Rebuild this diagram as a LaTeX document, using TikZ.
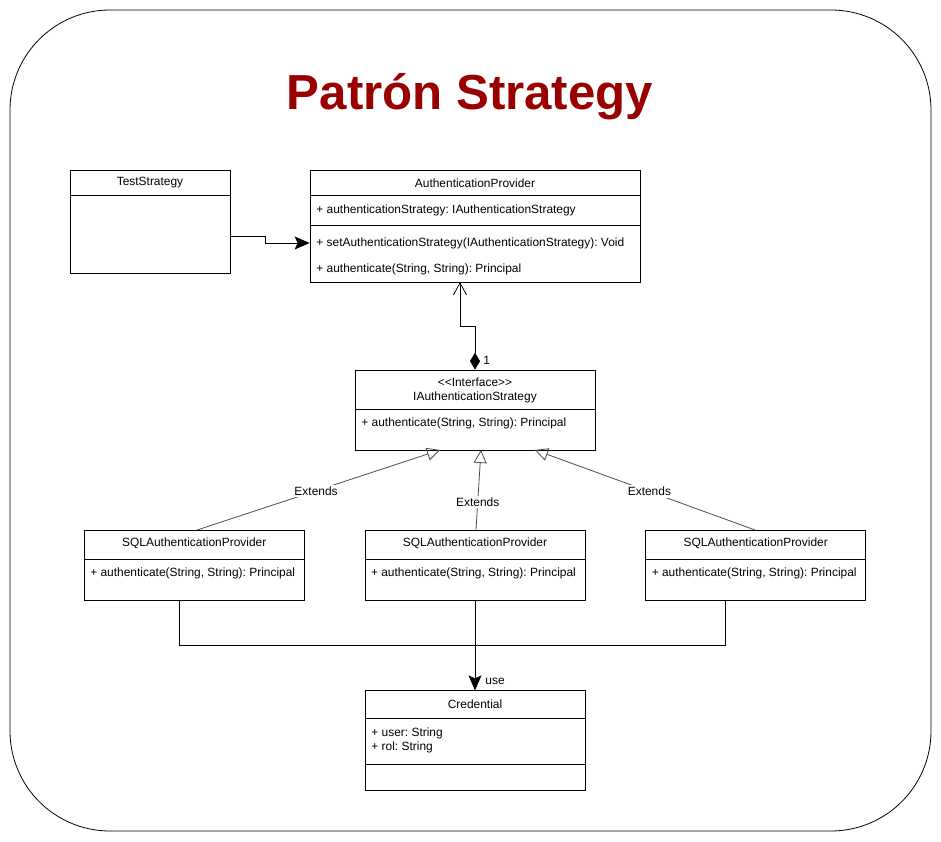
\documentclass[tikz,border=0pt]{standalone}
\usepackage{fontspec}
\setmainfont{Liberation Sans}
\usepackage{tikz}
\usetikzlibrary{positioning,arrows.meta,calc}
\definecolor{titlered}{HTML}{990000}
\frenchspacing

\begin{document}
\begin{tikzpicture}[x=0.02cm,y=-0.02cm,line width=0.45pt,
  cls/.style={draw,fill=white,inner sep=0pt,minimum width=#1},
  txt/.style={font=\fontsize{6.8}{8.2}\selectfont,inner sep=0pt},
  memb/.style={txt,anchor=west},
  ext/.style={draw=black!70,-{Triangle[open,length=0.26cm,width=0.26cm]}},
  lbl/.style={txt,fill=white,inner sep=1pt}]
\useasboundingbox (0,0) rectangle (941,842);
\draw[rounded corners=2cm] (10,10) rectangle (931,831);
\node[font=\fontsize{28}{34}\selectfont\bfseries,text=titlered] (title) at (470,97) {Patrón Strategy};

\node[cls=3.2cm,minimum height=2.06cm] (test) at (150,221.5) {}; \node[cls=6.6cm,minimum height=2.24cm] (auth) at (475,226) {};
\node[cls=4.8cm,minimum height=1.6cm] (iface) at (475,410) {};
\node[cls=4.4cm,minimum height=1.4cm] (sqlB) at (475,565) {}; \node[cls=4.4cm,minimum height=1.4cm,left=1.2cm of sqlB] (sqlA) {}; \node[cls=4.4cm,minimum height=1.4cm,right=1.2cm of sqlB] (sqlC) {};
\node[cls=4.4cm,minimum height=2cm,below=1.8cm of sqlB] (cred) {};

% compartments
\draw (test.north west) ++(0,26) -- ++(160,0);
\draw (auth.north west) ++(0,26) -- ++(330,0) (auth.north west) ++(0,56) -- ++(330,0);
\draw (iface.north west) ++(0,40) -- ++(240,0);
\foreach \c in {sqlA,sqlB,sqlC} {\draw (\c.north west) ++(0,30) -- ++(220,0);}
\draw (cred.north west) ++(0,28) -- ++(220,0) (cred.north west) ++(0,74) -- ++(220,0);

% texts
\node[txt] (testT) at (150,183) {TestStrategy};
\node[txt] (authT) at (475,183) {AuthenticationProvider};
\node[memb] (authA) at (316,210) {+ authenticationStrategy: IAuthenticationStrategy};
\node[memb] (authM1) at (316,243) {+ setAuthenticationStrategy(IAuthenticationStrategy): Void};
\node[memb] (authM2) at (316,269) {+ authenticate(String, String): Principal};
\node[txt] (ifaceS) at (475,382) {<\kern0pt<Interface>\kern0pt>}; \node[txt] (ifaceT) at (475,397) {IAuthenticationStrategy};
\node[memb] (ifaceM) at (361,423) {+ authenticate(String, String): Principal};
\foreach \c in {sqlA,sqlB,sqlC} {
  \node[txt] (\c T) at ($(\c.north)+(0,14)$) {SQLAuthenticationProvider};
  \node[memb] (\c M) at ($(\c.north west)+(6,44)$) {+ authenticate(String, String): Principal};
}
\node[txt] (credT) at (475,704) {Credential};
\node[memb] (credA1) at (371,733) {+ user: String}; \node[memb] (credA2) at (371,747) {+ rol: String};

% connectors
\draw[-{Stealth[length=0.3cm,width=0.26cm,inset=0.06cm]}] (test.east |- 0,236) -- (265,236) -- (265,243) -- (auth.west |- 0,243);
\draw[{Diamond[length=0.34cm,width=0.2cm]}-{Straight Barb[length=0.24cm,width=0.26cm]}] (iface.north) -- (475,326) -- (460,326) -- (460,282);
\node[txt,anchor=west] (one) at (483,360) {1};
\draw[ext] (197,530) -- node[lbl,pos=0.49] {Extends} (440,450);
\draw[ext] (sqlB.north) ++(1,0) -- node[lbl,pos=0.35] {Extends} (481,450);
\draw[ext] (755,530) -- node[lbl,pos=0.48] {Extends} (535,450);
\draw (sqlA.south -| 179,0) -- (179,645) -- (725,645) -- (sqlC.south -| 725,0);
\draw[-{Stealth[length=0.3cm,width=0.26cm,inset=0.06cm]}] (sqlB.south) -- (cred.north);
\node[txt,anchor=west] (use) at (485,681) {use};
\end{tikzpicture}
\end{document}
